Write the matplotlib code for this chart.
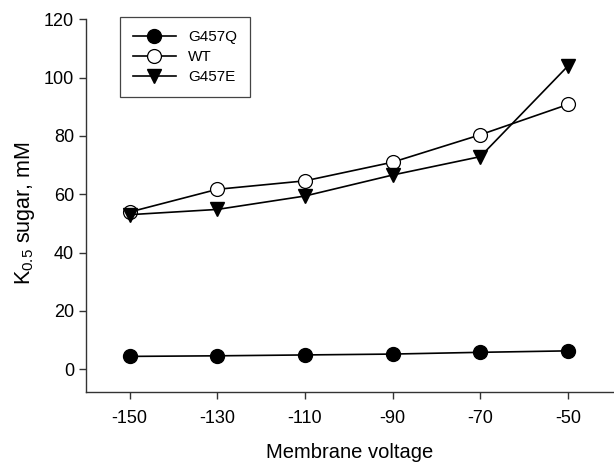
import matplotlib
matplotlib.use("Agg")
import matplotlib.pyplot as plt

plt.rcParams["font.family"] = ["Liberation Sans", "DejaVu Sans"]
plt.rcParams["mathtext.fontset"] = "custom"
plt.rcParams["mathtext.rm"] = "Liberation Sans"
plt.rcParams["mathtext.it"] = "Liberation Sans"
plt.rcParams["axes.unicode_minus"] = False

voltage = [-150, -130, -110, -90, -70, -50]
g457q = [4.4, 4.6, 4.9, 5.2, 5.8, 6.3]
wt = [53.9, 61.7, 64.6, 71.0, 80.4, 90.8]
g457e = [53.0, 54.8, 59.4, 66.6, 72.9, 104.0]

fig = plt.figure(figsize=(6.14, 4.62), dpi=100)
ax = fig.add_axes([0.1396, 0.1522, 0.8604, 0.8060])

ax.plot(voltage, g457q, "-o", color="black", mfc="black", mec="black",
        ms=10, lw=1.2, label="G457Q", zorder=3)
ax.plot(voltage, wt, "-o", color="black", mfc="white", mec="black",
        ms=10, lw=1.2, mew=0.9, label="WT", zorder=3)
ax.plot(voltage, g457e, "-v", color="black", mfc="black", mec="black",
        ms=10, lw=1.2, label="G457E", zorder=3)

ax.set_xlim(-160, -39.5)
ax.set_ylim(-7.7, 120)
ax.set_xticks(voltage)
ax.set_yticks([0, 20, 40, 60, 80, 100, 120])
ax.spines["top"].set_visible(False)
ax.spines["right"].set_visible(False)
for s in ("left", "bottom"):
    ax.spines[s].set_linewidth(1.0)
    ax.spines[s].set_color("#333333")
ax.tick_params(direction="out", length=5, width=1.0, labelsize=13, color="#333333")
ax.tick_params(axis="x", pad=8)

ax.set_xlabel("Membrane voltage", fontsize=14.5)
ax.xaxis.set_label_coords(0.5, -0.162)
ax.xaxis.label.set_va("center")
ax.set_ylabel(r"K$_{0.5}$ sugar, mM", fontsize=15.5)
ax.yaxis.set_label_coords(-0.115, 0.48)
ax.yaxis.label.set_va("center")

leg = ax.legend(loc="upper left", bbox_to_anchor=(120 / 614, 1 - 17 / 462),
                bbox_transform=fig.transFigure, fancybox=False, framealpha=1,
                edgecolor="#444444", fontsize=11, handlelength=2.8,
                borderpad=0.85, labelspacing=0.4, borderaxespad=0)
leg.get_frame().set_linewidth(0.9)

fig.savefig("out.png", dpi=100)
